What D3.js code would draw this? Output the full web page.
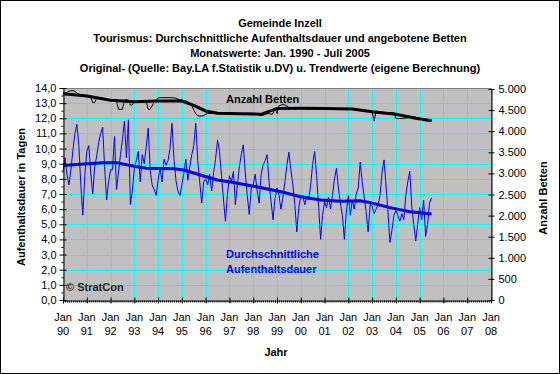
<!DOCTYPE html>
<html>
<head>
<meta charset="utf-8">
<script src="https://cdn.jsdelivr.net/npm/d3@7"></script>
<style>
  body { margin: 0; background: #fff; }
  svg { display: block; font-family: Arial, "Liberation Sans", sans-serif; }
</style>
</head>
<body>
<div id="chart"></div>
<script>
// Gemeinde Inzell - monthly values Jan 1990 .. Jul 2005 (index 0 = Jan 1990)

const TITLE_LINES = [
  "Gemeinde Inzell",
  "Tourismus: Durchschnittliche Aufenthaltsdauer und angebotene Betten",
  "Monatswerte: Jan. 1990 - Juli 2005",
  "Original- (Quelle: Bay.LA f.Statistik u.DV) u. Trendwerte (eigene Berechnung)"
]

const YEAR_LABELS = ["90","91","92","93","94","95","96","97","98","99",
  "00","01","02","03","04","05","06","07","08"]

// Durchschnittliche Aufenthaltsdauer (Tage), one row per year
const stayValues = [
  8.5, 9.4, 8.3, 7.6, 8.6, 9.9, 11.0, 11.6, 10.2, 7.6, 5.6, 8.2,
  9.8, 10.2, 8.4, 7.0, 8.8, 9.5, 10.4, 11.0, 11.4, 8.8, 6.6, 7.8,
  8.6, 8.6, 10.8, 7.3, 8.4, 9.6, 10.6, 11.8, 9.4, 11.9, 6.3, 7.2,
  8.7, 9.2, 9.8, 7.8, 9.6, 9.0, 10.1, 11.35, 8.6, 7.6, 7.3, 6.9,
  7.9, 8.7, 7.8, 9.3, 8.9, 9.2, 10.0, 11.67, 9.3, 7.9, 7.2, 6.9,
  7.6, 8.4, 9.3, 7.9, 8.8, 9.6, 10.2, 11.67, 9.2, 7.8, 6.4, 7.8,
  8.0, 7.6, 8.3, 7.2, 8.4, 9.3, 10.57, 9.8, 8.2, 6.6, 5.2, 7.0,
  8.2, 7.8, 8.5, 6.3, 7.6, 8.8, 9.6, 10.24, 8.4, 6.9, 5.65, 7.4,
  7.6, 8.3, 7.2, 6.4, 8.3, 8.9, 9.2, 9.6, 7.8, 6.5, 5.3, 6.7,
  7.4, 6.9, 6.0, 6.8, 7.8, 8.9, 9.76, 8.6, 7.6, 6.3, 4.5, 6.1,
  6.9, 6.9, 6.3, 6.8, 6.6, 7.6, 9.0, 9.8, 8.2, 6.2, 4.0, 5.6,
  6.5, 6.1, 6.8, 6.0, 6.9, 8.0, 8.7, 7.4, 6.4, 5.6, 4.0, 5.8,
  6.9, 5.6, 6.6, 6.0, 7.0, 7.4, 9.1, 7.8, 6.8, 5.8, 4.5, 6.3,
  6.2, 5.7, 6.0, 6.3, 6.9, 8.4, 9.25, 7.6, 5.8, 3.8, 4.6, 5.6,
  5.9, 5.6, 5.2, 5.7, 5.3, 6.9, 7.8, 8.5, 6.2, 5.0, 3.9, 5.0,
  6.1, 5.3, 6.6, 4.2, 5.0, 6.4, 6.75
]

// Trend der Aufenthaltsdauer (Monatsindex, Wert)
const stayTrendMonth = [0, 12, 20, 27, 34, 42, 56, 61, 71, 78, 86, 97, 110, 120, 130, 140, 150, 155, 165, 175, 186]
const stayTrendValue = [8.88, 9.0, 9.07, 9.07, 8.88, 8.7, 8.67, 8.58, 8.19, 7.93, 7.76, 7.5, 7.15, 6.82, 6.6, 6.52, 6.55, 6.43, 6.1, 5.83, 5.68]

// Anzahl Betten, one row per year
const bedValues = [
  4880, 4900, 4920, 4950, 4960, 4960, 4950, 4900, 4880, 4860, 4850, 4840,
  4830, 4820, 4810, 4680, 4680, 4790, 4780, 4770, 4760, 4750, 4745, 4740,
  4740, 4735, 4730, 4725, 4520, 4520, 4520, 4740, 4745, 4740, 4620, 4620,
  4700, 4700, 4700, 4700, 4700, 4700, 4700, 4520, 4520, 4600, 4700, 4740,
  4790, 4795, 4795, 4795, 4795, 4795, 4795, 4790, 4790, 4780, 4760, 4740,
  4740, 4720, 4720, 4700, 4650, 4600, 4500, 4420, 4370, 4360, 4360, 4370,
  4400, 4420, 4420, 4420, 4420, 4420, 4420, 4420, 4425, 4425, 4425, 4425,
  4425, 4425, 4420, 4420, 4420, 4420, 4420, 4420, 4420, 4425, 4425, 4425,
  4420, 4420, 4410, 4380, 4370, 4380, 4400, 4410, 4420, 4400, 4420, 4550,
  4420, 4600, 4620, 4630, 4620, 4600, 4560, 4540, 4530, 4530, 4530, 4535,
  4535, 4535, 4530, 4520, 4530, 4530, 4530, 4530, 4530, 4530, 4530, 4530,
  4525, 4525, 4525, 4525, 4525, 4520, 4520, 4520, 4520, 4520, 4520, 4520,
  4520, 4515, 4515, 4510, 4510, 4505, 4500, 4500, 4495, 4490, 4485, 4480,
  4460, 4240, 4460, 4455, 4450, 4450, 4445, 4440, 4440, 4440, 4440, 4440,
  4300, 4300, 4300, 4300, 4305, 4310, 4320, 4330, 4340, 4340, 4330, 4320,
  4300, 4290, 4280, 4270, 4265, 4260, 4255
]

// Trend der Betten (Monatsindex, Wert)
const bedTrendMonth = [0, 12, 24, 36, 48, 60, 66, 72, 78, 84, 96, 100, 108, 120, 132, 146, 156, 168, 178, 186]
const bedTrendValue = [4890, 4834, 4735, 4700, 4716, 4716, 4614, 4480, 4425, 4420, 4410, 4400, 4540, 4543, 4535, 4526, 4462, 4400, 4305, 4250]

const WIDTH = 560
const HEIGHT = 374
const PLOT = {LEFT: 63, RIGHT: 491, TOP: 88, BOTTOM: 300}
const FONT = "Arial, 'Liberation Sans', sans-serif"

const locale = d3.formatLocale({decimal: ",", thousands: ".", grouping: [3], currency: ["", " €"]})
const fmtLeft = locale.format(".1f")
const fmtRight = locale.format(",d")

const svg = d3.select("#chart").append("svg")
  .attr("width", WIDTH)
  .attr("height", HEIGHT)

// outer frame
svg.append("rect")
  .attr("x", 0.5).attr("y", 0.5)
  .attr("width", WIDTH - 1).attr("height", HEIGHT - 1)
  .attr("fill", "#fff").attr("stroke", "#000")

// SCALES
const x = d3.scaleLinear().domain([0, 216]).range([PLOT.LEFT, PLOT.RIGHT])
const yLeft = d3.scaleLinear().domain([0, 14]).range([PLOT.BOTTOM, PLOT.TOP])
const yRight = d3.scaleLinear().domain([0, 5000]).range([PLOT.BOTTOM, PLOT.TOP + 1])

// plot background
svg.append("rect")
  .attr("x", PLOT.LEFT).attr("y", PLOT.TOP)
  .attr("width", PLOT.RIGHT - PLOT.LEFT).attr("height", PLOT.BOTTOM - PLOT.TOP)
  .attr("fill", "#c0c0c0")

// grid
const grid = svg.append("g").attr("stroke", "#00ffff").attr("stroke-width", 1)
grid.selectAll("hline")
  .data(d3.range(1, 14))
  .enter().append("line")
    .attr("x1", PLOT.LEFT).attr("x2", PLOT.RIGHT)
    .attr("y1", d => Math.round(yLeft(d)) + 0.5)
    .attr("y2", d => Math.round(yLeft(d)) + 0.5)
grid.selectAll("vline")
  .data(d3.range(12, 216, 12))
  .enter().append("line")
    .attr("y1", PLOT.TOP).attr("y2", PLOT.BOTTOM)
    .attr("x1", d => Math.round(x(d)) + 0.5)
    .attr("x2", d => Math.round(x(d)) + 0.5)

// top / right border of plot area
svg.append("path")
  .attr("d", `M${PLOT.LEFT},${PLOT.TOP + 0.5}H${PLOT.RIGHT + 0.5}V${PLOT.BOTTOM}`)
  .attr("fill", "none").attr("stroke", "#808080")

// LINES
const stayLine = d3.line().x((d, i) => x(i)).y(d => yLeft(d))
const bedLine = d3.line().x((d, i) => x(i)).y(d => yRight(d))
const stayTrend = d3.line().x(d => x(d[0])).y(d => yLeft(d[1]))
const bedTrend = d3.line().x(d => x(d[0])).y(d => yRight(d[1]))

svg.append("path")
  .attr("d", bedLine(bedValues))
  .attr("fill", "none").attr("stroke", "#000").attr("stroke-width", 1)
svg.append("path")
  .attr("d", bedTrend(d3.zip(bedTrendMonth, bedTrendValue)))
  .attr("fill", "none").attr("stroke", "#000").attr("stroke-width", 3)
svg.append("path")
  .attr("d", stayLine(stayValues))
  .attr("fill", "none").attr("stroke", "#0000ff").attr("stroke-width", 1)
svg.append("path")
  .attr("d", stayTrend(d3.zip(stayTrendMonth, stayTrendValue)))
  .attr("fill", "none").attr("stroke", "#0000ff").attr("stroke-width", 3)

// AXES
function styleAxis(g) {
  g.select(".domain").attr("stroke", "#000")
  g.selectAll(".tick line").attr("stroke", "#000")
  g.selectAll("text").attr("font-family", FONT).attr("font-size", 11).attr("fill", "#000")
}

// left
const leftAxis = svg.append("g")
  .attr("transform", `translate(${PLOT.LEFT + 0.5},0)`)
  .call(d3.axisLeft(yLeft).tickValues(d3.range(0, 14.01, 1)).tickFormat(fmtLeft)
    .tickSizeInner(4).tickSizeOuter(0).tickPadding(3))
  .call(styleAxis)
leftAxis.selectAll(".tick line").attr("x1", 3)
svg.append("g")
  .attr("transform", `translate(${PLOT.LEFT + 0.5},0)`)
  .call(d3.axisLeft(yLeft).tickValues(d3.range(0.5, 14, 1)).tickFormat("")
    .tickSizeInner(2).tickSizeOuter(0))
  .call(g => g.select(".domain").remove())

// right
const rightAxis = svg.append("g")
  .attr("transform", `translate(${PLOT.RIGHT + 0.5},0)`)
  .call(d3.axisRight(yRight).tickValues(d3.range(0, 5001, 500)).tickFormat(fmtRight)
    .tickSizeInner(3).tickSizeOuter(0).tickPadding(4))
  .call(styleAxis)
rightAxis.selectAll(".tick line").attr("x1", -3)

// bottom: monthly minor ticks, yearly major ticks
svg.append("g")
  .attr("transform", `translate(0,${PLOT.BOTTOM + 0.5})`)
  .call(d3.axisBottom(x).tickValues(d3.range(0, 217, 1)).tickFormat("")
    .tickSizeInner(2).tickSizeOuter(0))
  .call(g => g.select(".domain").remove())
const bottomAxis = svg.append("g")
  .attr("transform", `translate(0,${PLOT.BOTTOM + 0.5})`)
  .call(d3.axisBottom(x).tickValues(d3.range(0, 217, 12)).tickFormat("")
    .tickSizeInner(3).tickSizeOuter(0))
  .call(styleAxis)
bottomAxis.selectAll(".tick line").attr("y1", -3)

svg.append("g")
  .selectAll("text")
  .data(YEAR_LABELS)
  .enter().append("text")
    .attr("x", (d, i) => x(i * 12))
    .attr("y", 321)
    .attr("text-anchor", "middle")
    .attr("font-family", FONT).attr("font-size", 11)
    .each(function (d) {
      const t = d3.select(this)
      t.append("tspan").attr("x", t.attr("x")).text("Jan")
      t.append("tspan").attr("x", t.attr("x")).attr("dy", 14).text(d)
    })

// TITLES
svg.append("g")
  .selectAll("text")
  .data(TITLE_LINES)
  .enter().append("text")
    .attr("x", 280)
    .attr("y", (d, i) => 26.5 + i * 15)
    .attr("text-anchor", "middle")
    .attr("font-family", FONT).attr("font-size", 11).attr("font-weight", "bold")
    .text(d => d)

svg.append("text")
  .attr("x", 276).attr("y", 356)
  .attr("text-anchor", "middle")
  .attr("font-family", FONT).attr("font-size", 11).attr("font-weight", "bold")
  .text("Jahr")

svg.append("text")
  .attr("transform", "translate(25,197) rotate(-90)")
  .attr("text-anchor", "middle")
  .attr("font-family", FONT).attr("font-size", 11).attr("font-weight", "bold")
  .text("Aufenthaltsdauer in Tagen")

svg.append("text")
  .attr("transform", "translate(547,198) rotate(-90)")
  .attr("text-anchor", "middle")
  .attr("font-family", FONT).attr("font-size", 11).attr("font-weight", "bold")
  .text("Anzahl Betten")

// in-plot labels
svg.append("text")
  .attr("x", 226).attr("y", 103)
  .attr("font-family", FONT).attr("font-size", 11).attr("font-weight", "bold")
  .text("Anzahl Betten")

svg.append("text")
  .attr("x", 226).attr("y", 258)
  .attr("font-family", FONT).attr("font-size", 11).attr("font-weight", "bold")
  .attr("fill", "#0000ff")
  .call(t => {
    t.append("tspan").attr("x", 226).text("Durchschnittliche")
    t.append("tspan").attr("x", 226).attr("dy", 15).text("Aufenthaltsdauer")
  })

svg.append("text")
  .attr("x", 66).attr("y", 291)
  .attr("font-family", FONT).attr("font-size", 11).attr("font-weight", "bold")
  .attr("fill", "#202020")
  .text("© StratCon")
</script>
</body>
</html>
